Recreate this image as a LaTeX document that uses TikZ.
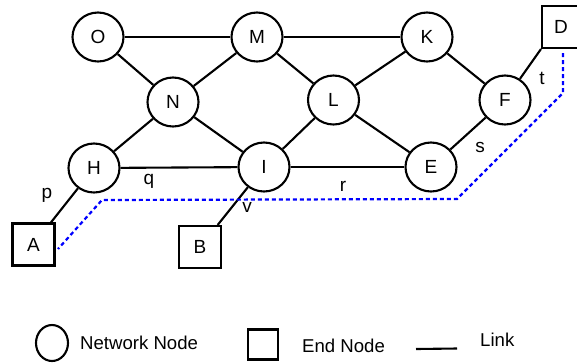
\documentclass[tikz,border=0pt]{standalone}
\usepackage{fontspec}
\setmainfont{Liberation Sans}
\usetikzlibrary{shapes.geometric}
\begin{document}
\begin{tikzpicture}[x=1pt,y=-1pt,
  netnode/.style={draw,line width=2.1pt,ellipse,minimum width=51pt,minimum height=49pt,inner sep=0pt,font=\fontsize{19}{21}\selectfont},
  endnode/.style={draw,line width=2.1pt,rectangle,minimum size=42pt,inner sep=0pt,font=\fontsize{19}{21}\selectfont},
  link/.style={line width=2.1pt},
  lbl/.style={inner sep=0pt,font=\fontsize{19}{21}\selectfont},
  legtext/.style={inner sep=0pt,anchor=west,font=\fontsize{18.6}{21}\selectfont},
  path/.style={draw=blue,line width=2.2pt,dash pattern=on 4pt off 3pt}]
\useasboundingbox (0,0) rectangle (577,362);
\clip (0,0) rectangle (577,362);
% network nodes
\node[netnode] (O) at (98,37) {O};
\node[netnode] (M) at (257,37) {M};
\node[netnode] (K) at (427,37) {K};
\node[netnode] (N) at (173,102) {N};
\node[netnode] (L) at (333.5,100) {L};
\node[netnode] (F) at (505,100) {F};
\node[netnode] (H) at (94,168) {H};
\node[netnode] (I) at (264,167) {I};
\node[netnode] (E) at (431,167) {E};
% end nodes
\node[endnode] (A) at (33.5,244.5) {A};
\node[endnode] (B) at (200,247) {B};
\node[endnode] (D) at (563,27) {};
\node[lbl] (Dt) at (561,27) {D};
% links
\draw[link] (O) -- (M);
\draw[link] (M) -- (K);
\draw[link] (O) -- (N);
\draw[link] (M) -- (N);
\draw[link] (M) -- (L);
\draw[link] (K) -- (L);
\draw[link] (K) -- (F);
\draw[link] (N) -- (H);
\draw[link] (N) -- (I);
\draw[link] (L) -- (I);
\draw[link] (L) -- (E);
\draw[link] (F) -- (E);
\draw[link] (H) -- (I);
\draw[link] (I) -- (E);
\draw[link] (H) -- (A);
\draw[link] (I) -- (B);
\draw[link] (F) -- (D.south west);
% labels
\node[lbl] (p) at (47,195) {p};
\node[lbl] (q) at (149,181) {q};
\node[lbl] (v) at (247,207) {v};
\node[lbl] (r) at (343,186) {r};
\node[lbl] (s) at (480,147) {s};
\node[lbl] (t) at (542,78) {t};
% path
\coordinate (p1) at (563,53);
\coordinate (p2) at (563,93);
\coordinate (p3) at (457,199);
\coordinate (p4) at (102,200);
\coordinate (p5) at (58,249);
\draw[path] (p1) -- (p2) -- (p3) -- (p4) -- (p5);
% legend
\node[draw,line width=2.1pt,ellipse,minimum width=32pt,minimum height=36pt,inner sep=0pt] (lc) at (52,343) {};
\node[legtext] (lct) at (80,343) {Network Node};
\node[draw,line width=2.1pt,rectangle,minimum size=30pt,inner sep=0pt] (ls) at (263,344.5) {};
\node[legtext] (lst) at (302,346) {End Node};
\coordinate (l1) at (416,349);
\coordinate (l2) at (457,348.5);
\draw[link] (l1) -- (l2);
\node[legtext] (llt) at (480,340) {Link};
\end{tikzpicture}
\end{document}
